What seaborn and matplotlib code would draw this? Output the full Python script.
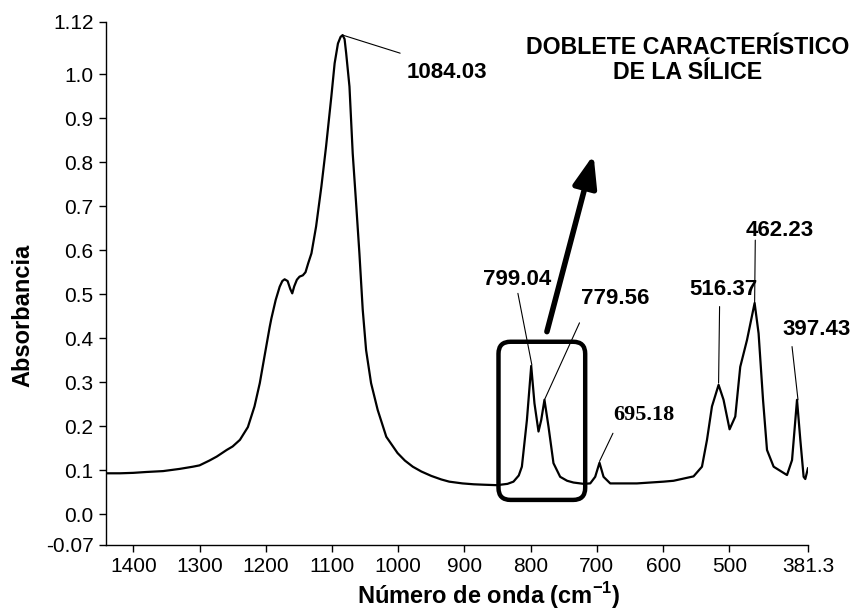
import matplotlib
matplotlib.use("Agg")
import matplotlib.pyplot as plt
import seaborn as sns
import pandas as pd
from matplotlib.patches import FancyBboxPatch

# ---- data ----
wavenumber = [1441.2, 1420, 1400, 1380, 1355, 1330, 1310, 1300, 1285, 1274,
              1259, 1250, 1239, 1227, 1217, 1209, 1202, 1194, 1191.5, 1185,
              1179, 1175, 1171.5, 1167, 1163, 1160, 1157, 1153, 1149, 1144,
              1140, 1136, 1131, 1124, 1116, 1109, 1101, 1096, 1091, 1087,
              1084, 1081, 1078.6, 1073.6, 1068.7, 1063.6, 1058.6, 1053.6, 1048.5, 1041,
              1031, 1018, 1001, 990, 978, 965, 950, 935, 923, 903,
              886, 870, 851, 835, 826, 818,
              813.3, 805.7, 799.2, 794.3, 788.2, 784.1, 779.2, 773.1, 765.6, 755.5,
              745, 735.4, 720, 710.1, 702.6, 696.1, 690, 679.9, 639.6, 599.4, 584.3, 554.1,
              541.4, 533.8, 526.3, 516.3, 508.8, 499.7, 491.1, 483.6, 473.4, 461.9,
              455.9, 449.2, 443.2, 433.2, 413, 405.4, 397.9, 392.9, 387.9, 385.4,
              381.3]
absorbance = [0.093, 0.093, 0.094, 0.096, 0.098, 0.103, 0.108, 0.111, 0.122, 0.131,
              0.146, 0.154, 0.169, 0.198, 0.245, 0.298, 0.358, 0.426, 0.445, 0.487,
              0.517, 0.530, 0.534, 0.530, 0.512, 0.502, 0.518, 0.533, 0.540, 0.543,
              0.550, 0.570, 0.593, 0.654, 0.745, 0.835, 0.949, 1.025, 1.070, 1.085,
              1.089, 1.080, 1.048, 0.972, 0.820, 0.707, 0.593, 0.465, 0.373, 0.298,
              0.237, 0.176, 0.139, 0.122, 0.108, 0.097, 0.087, 0.079, 0.074, 0.070,
              0.068, 0.067, 0.066, 0.069, 0.074, 0.088,
              0.108, 0.214, 0.337, 0.252, 0.188, 0.214, 0.260, 0.199, 0.116, 0.085,
              0.076, 0.072, 0.069, 0.070, 0.085, 0.117, 0.085, 0.070, 0.070, 0.074, 0.076, 0.086,
              0.108, 0.169, 0.245, 0.294, 0.260, 0.193, 0.222, 0.335, 0.396, 0.480,
              0.411, 0.260, 0.146, 0.108, 0.089, 0.123, 0.260, 0.169, 0.085, 0.080,
              0.105]

x_ticks = [1400, 1300, 1200, 1100, 1000, 900, 800, 700, 600, 500, 381.3]
x_tick_labels = ["1400", "1300", "1200", "1100", "1000", "900", "800", "700", "600", "500", "381.3"]
y_ticks = [-0.07, 0.0, 0.1, 0.2, 0.3, 0.4, 0.5, 0.6, 0.7, 0.8, 0.9, 1.0, 1.12]
y_tick_labels = ["-0.07", "0.0", "0.1", "0.2", "0.3", "0.4", "0.5", "0.6", "0.7", "0.8", "0.9", "1.0", "1.12"]

# peak labels: text, text position (x, y), leader start, leader end
peak_labels = ["1084.03", "799.04", "779.56", "516.37", "462.23", "397.43"]
peak_text_pos = [(926.6, 1.005), (820.9, 0.5325), (672.4, 0.491), (508.8, 0.51), (424.2, 0.646), (367.7, 0.419)]
peak_line_from = [(997.1, 1.048), (819.3, 0.502), (726.3, 0.435), (514.8, 0.472), (460.9, 0.623), (405.4, 0.381)]
peak_line_to = [(1083.7, 1.089), (798.2, 0.339), (779.2, 0.26), (516.3, 0.298), (461.9, 0.48), (396.4, 0.26)]

serif_label = "695.18"
serif_text_pos = (629.6, 0.2257)
serif_line = [(675.8, 0.184), (696.1, 0.12)]

title_text = "DOBLETE CARACTERÍSTICO\nDE LA SÍLICE"
title_pos = (562.8, 1.033)
arrow_from = (775.5, 0.415)
arrow_to = (705.1, 0.817)
box_x = (848.6, 717.7)
box_y = (0.0325, 0.392)

# ---- figure ----
sns.set_theme(style="ticks")
plt.rcParams["font.family"] = ["Liberation Sans", "DejaVu Sans"]
plt.rcParams["text.color"] = "black"
plt.rcParams["axes.labelcolor"] = "black"
plt.rcParams["mathtext.fontset"] = "custom"
plt.rcParams["mathtext.rm"] = "Liberation Sans"
plt.rcParams["mathtext.bf"] = "Liberation Sans:bold"

fig = plt.figure(figsize=(8.54, 6.12), dpi=100)
ax = fig.add_axes([106 / 854, 67 / 612, 702 / 854, 523.5 / 612])

df = pd.DataFrame({"Número de onda": wavenumber, "Absorbancia": absorbance})
sns.lineplot(data=df, x="Número de onda", y="Absorbancia", ax=ax, color="black",
             linewidth=1.6, sort=False, estimator=None)

ax.set_xlim(1441.2, 381.3)
ax.set_ylim(-0.07, 1.12)
ax.set_xticks(x_ticks)
ax.set_xticklabels(x_tick_labels)
ax.set_yticks(y_ticks)
ax.set_yticklabels(y_tick_labels)
ax.tick_params(axis="both", direction="out", length=5, width=1, colors="black",
               labelsize=15, pad=4)
for s in ["top", "right"]:
    ax.spines[s].set_visible(False)
for s in ["left", "bottom"]:
    ax.spines[s].set_color("black")
    ax.spines[s].set_linewidth(1)

ax.set_xlabel("")
ax.set_ylabel("")
fig.text(489 / 854, 1 - 596 / 612, "Número de onda (cm$^{\\mathbf{-1}}$)", ha="center", va="center",
         fontsize=17, fontweight="bold", color="black")
fig.text(23 / 854, 1 - 315 / 612, "Absorbancia", ha="center", va="center", rotation=90,
         fontsize=17, fontweight="bold", color="black")

# peak annotations
for lab, tp, lf, lt in zip(peak_labels, peak_text_pos, peak_line_from, peak_line_to):
    ax.text(tp[0], tp[1], lab, ha="center", va="center", fontsize=16, fontweight="bold",
            color="black", clip_on=False)
    ax.plot([lf[0], lt[0]], [lf[1], lt[1]], color="black", lw=0.8, clip_on=False)

ax.text(serif_text_pos[0], serif_text_pos[1], serif_label, ha="center", va="center",
        fontsize=16, fontweight="bold", family=["Liberation Serif", "DejaVu Serif"], color="black")
ax.plot([serif_line[0][0], serif_line[1][0]], [serif_line[0][1], serif_line[1][1]],
        color="black", lw=0.8)

ax.text(title_pos[0], title_pos[1], title_text, ha="center", va="center", fontsize=16.7,
        fontweight="bold", linespacing=1.1, color="black")

ax.annotate("", xy=arrow_to, xytext=arrow_from,
            arrowprops=dict(arrowstyle="-|>,head_length=1.6,head_width=0.6", color="black",
                            lw=4, shrinkA=0, shrinkB=0))

# rounded box (computed in display coords so rounding is circular)
fig.canvas.draw()
(x0, y0) = ax.transData.transform((box_x[0], box_y[0]))
(x1, y1) = ax.transData.transform((box_x[1], box_y[1]))
box = FancyBboxPatch((min(x0, x1), min(y0, y1)), abs(x1 - x0), abs(y1 - y0),
                     boxstyle="round,pad=0,rounding_size=12", transform=None,
                     fill=False, edgecolor="black", linewidth=3.2, zorder=5)
fig.patches.append(box)
box.set_figure(fig)

fig.savefig("out.png", dpi=100)
